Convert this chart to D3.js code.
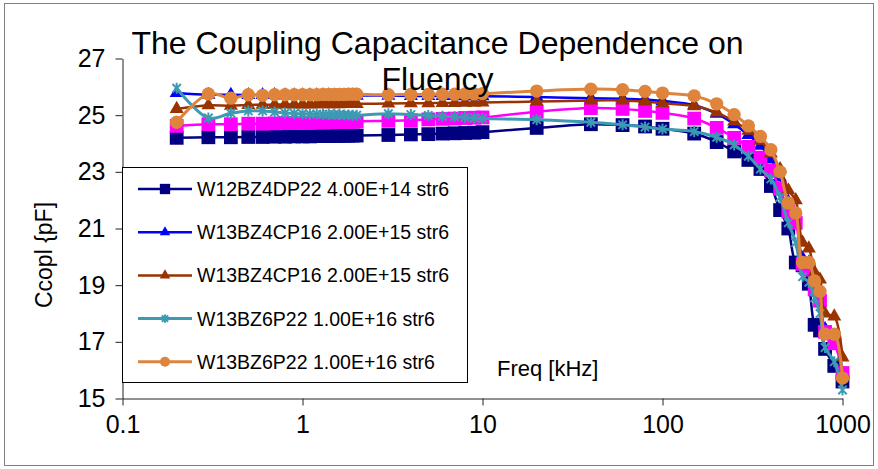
<!DOCTYPE html>
<html>
<head>
<meta charset="utf-8">
<script src="https://cdn.jsdelivr.net/npm/d3@7"></script>
<style>
  body { margin: 0; background: #fff; }
  svg { display: block; }
  text { font-family: "Liberation Sans", Arial, sans-serif; fill: #000; }
</style>
</head>
<body>
<svg id="chart" width="878" height="469"></svg>
<script>
// Measurement frequencies [kHz]
const freq = [0.2,0.3,0.4,0.5,0.6,0.7,0.8,0.9,1,1.1,1.2,1.3,1.4,1.5,1.6,1.7,1.8,1.9,2,
  3,4,5,6,7,8,9,10,
  20,40,60,80,100,
  150,200,250,300,350,400,450,500,550,600,650,700,750,800,900,1000];

// Coupling capacitance [pF] per sample
const w12bz4dp22 = [24.20,24.22,24.22,24.23,24.23,24.24,24.24,24.25,24.25,24.25,24.26,24.26,24.26,24.27,24.27,24.27,24.28,24.28,24.28,
  24.30,24.32,24.33,24.35,24.36,24.37,24.38,24.40,
  24.55,24.68,24.65,24.60,24.52,
  24.35,24.05,23.72,23.42,23.10,22.50,21.65,21.00,19.80,19.70,19.05,17.60,17.40,16.75,16.15,15.60];

const w13bz4cp16a = [25.78,25.72,25.72,25.71,25.71,25.71,25.70,25.70,25.70,25.70,25.70,25.70,25.70,25.69,25.69,25.69,25.69,25.69,25.69,
  25.69,25.68,25.68,25.68,25.68,25.67,25.67,25.67,
  25.64,25.60,25.58,25.55,25.50,
  25.35,25.05,24.68,24.30,23.92,23.45,22.80,21.95,21.45,19.95,19.80,19.05,18.60,17.45,17.20,15.90];

const w12bz4dp22b = [24.62,24.68,24.68,24.70,24.70,24.71,24.72,24.72,24.73,24.73,24.74,24.74,24.75,24.75,24.76,24.76,24.77,24.77,24.78,
  24.80,24.82,24.85,24.87,24.88,24.90,24.91,24.92,
  25.12,25.25,25.22,25.15,25.08,
  24.88,24.55,24.20,23.88,23.50,23.05,22.40,21.60,21.20,19.75,19.55,18.85,18.45,17.35,16.95,15.90];

const w13bz4cp16b = [25.22,25.35,25.33,25.36,25.37,25.37,25.38,25.38,25.38,25.38,25.39,25.39,25.39,25.39,25.39,25.40,25.40,25.40,25.40,
  25.41,25.42,25.42,25.43,25.43,25.44,25.44,25.45,
  25.48,25.52,25.52,25.48,25.42,
  25.32,25.10,24.78,24.45,24.10,23.65,23.10,22.35,22.00,20.50,20.30,19.45,19.20,18.00,17.90,16.45];

const w13bz6p22a = [25.95,24.90,25.07,25.15,25.15,25.11,25.08,25.06,25.05,25.04,25.04,25.03,25.03,25.02,25.02,25.01,25.01,25.00,25.00,
  25.05,25.02,24.99,24.96,24.94,24.92,24.90,24.88,
  24.84,24.75,24.66,24.58,24.51,
  24.42,24.22,23.95,23.55,23.10,22.75,22.10,21.20,20.50,19.30,19.10,18.55,18.00,16.80,16.30,15.30];

const w13bz6p22b = [24.75,25.75,25.60,25.72,25.70,25.72,25.72,25.72,25.72,25.72,25.72,25.73,25.73,25.73,25.73,25.73,25.74,25.74,25.74,
  25.72,25.73,25.73,25.74,25.74,25.75,25.75,25.76,
  25.85,25.92,25.90,25.84,25.78,
  25.68,25.40,25.02,24.62,24.25,23.78,23.00,21.90,21.55,19.80,19.80,19.15,18.78,17.27,17.27,15.72];

// Axis ticks
const xTicks = [0.1, 1, 10, 100, 1000];
const yTicks = [15, 17, 19, 21, 23, 25, 27];

// Series in drawing order (last drawn on top)
const series = [
  { name: "W12BZ4DP22 4.00E+14 str6", values: w12bz4dp22,  color: "#000080", marker: "square",   lw: 2.5, legend: 0 },
  { name: "W13BZ4CP16 2.00E+15 str6", values: w13bz4cp16a, color: "#0000FF", marker: "triangle", lw: 2.5, legend: 1 },
  { name: "W12BZ4DP22 str6",          values: w12bz4dp22b, color: "#FF00FF", marker: "square",   lw: 2.5, legend: -1 },
  { name: "W13BZ4CP16 2.00E+15 str6", values: w13bz4cp16b, color: "#993300", marker: "triangle", lw: 2.5, legend: 2 },
  { name: "W13BZ6P22 1.00E+16 str6",  values: w13bz6p22a,  color: "#3D9AB3", marker: "star",     lw: 3,   legend: 3 },
  { name: "W13BZ6P22 1.00E+16 str6",  values: w13bz6p22b,  color: "#DE843C", marker: "circle",   lw: 3,   legend: 4 }
];

const svg = d3.select("#chart");

// Chart frame
svg.append("rect")
  .attr("x", 4.5).attr("y", 3.5).attr("width", 869).attr("height", 462)
  .attr("fill", "#fff").attr("stroke", "#808080").attr("stroke-width", 1);

const x = d3.scaleLog().domain([0.1, 1000]).range([122.5, 842.5]);
const y = d3.scaleLinear().domain([15, 27]).range([398.5, 58.5]);

// Axes
const xAxis = svg.append("g")
  .attr("transform", "translate(0,398.5)")
  .call(d3.axisBottom(x).tickValues(xTicks).tickFormat(d3.format("~g"))
    .tickSize(7).tickSizeOuter(0).tickPadding(10));
const yAxis = svg.append("g")
  .attr("transform", "translate(122.5,0)")
  .call(d3.axisLeft(y).tickValues(yTicks).tickFormat(d3.format("d"))
    .tickSize(7).tickSizeOuter(0).tickPadding(10));
[xAxis, yAxis].forEach(g => {
  g.selectAll("path.domain, line").attr("stroke", "#222").attr("stroke-width", 1);
  g.selectAll("text").attr("font-size", 25)
    .attr("font-family", "\"Liberation Sans\", Arial, sans-serif").attr("fill", "#000");
});

// Marker shapes
function markerPath(type, scale) {
  const s = scale || 1;
  if (type === "square") return d3.symbol(d3.symbolSquare, 190 * s * s)();
  if (type === "triangle") return d3.symbol(d3.symbolTriangle, 85 * s * s)();
  if (type === "circle") return d3.symbol(d3.symbolCircle, 140 * s * s)();
  const r = 5.5 * s, d = 4.2 * s;
  return `M${-d},${-d}L${d},${d}M${-d},${d}L${d},${-d}M0,${-r}L0,${r}`;
}
function drawMarker(g, type, color, scale) {
  const p = g.append("path").attr("d", markerPath(type, scale));
  if (type === "star") {
    p.attr("fill", "none").attr("stroke", color).attr("stroke-width", 2);
  } else {
    p.attr("fill", color);
  }
  return p;
}

const line = d3.line()
  .x((d, i) => x(freq[i]))
  .y(d => y(d))
  .curve(d3.curveCatmullRom.alpha(0.5));

const plot = svg.append("g");
series.forEach(s => {
  const g = plot.append("g");
  g.append("path")
    .attr("d", line(s.values))
    .attr("fill", "none")
    .attr("stroke", s.color)
    .attr("stroke-width", s.lw)
    .attr("stroke-linejoin", "round");
  s.values.forEach((v, i) => {
    const m = g.append("g").attr("transform", `translate(${x(freq[i])},${y(v)})`);
    drawMarker(m, s.marker, s.color, 1);
  });
});

// Legend
const legend = svg.append("g");
legend.append("rect")
  .attr("x", 122.5).attr("y", 167.5).attr("width", 345).attr("height", 215)
  .attr("fill", "#fff").attr("stroke", "#000").attr("stroke-width", 1);
const legendRows = series.filter(s => s.legend >= 0).sort((a, b) => a.legend - b.legend);
legendRows.forEach((s, k) => {
  const cy = 189 + k * 43.2;
  legend.append("line")
    .attr("x1", 138).attr("x2", 192).attr("y1", cy).attr("y2", cy)
    .attr("stroke", s.color).attr("stroke-width", s.lw);
  const m = legend.append("g").attr("transform", `translate(165,${cy})`);
  drawMarker(m, s.marker, s.color, 0.75);
  legend.append("text")
    .attr("x", 197).attr("y", cy).attr("dy", "0.36em")
    .attr("font-size", 19.5)
    .text(s.name);
});

// Titles
const title = svg.append("text")
  .attr("text-anchor", "middle").attr("font-size", 32);
title.append("tspan").attr("x", 437.5).attr("y", 54).text("The Coupling Capacitance Dependence on");
title.append("tspan").attr("x", 437.5).attr("y", 90).text("Fluency");

svg.append("text")
  .attr("x", 497).attr("y", 376).attr("font-size", 22)
  .text("Freq [kHz]");

svg.append("text")
  .attr("transform", "translate(52,255) rotate(-90)")
  .attr("text-anchor", "middle").attr("font-size", 23)
  .text("Ccopl {pF]");
</script>
</body>
</html>
